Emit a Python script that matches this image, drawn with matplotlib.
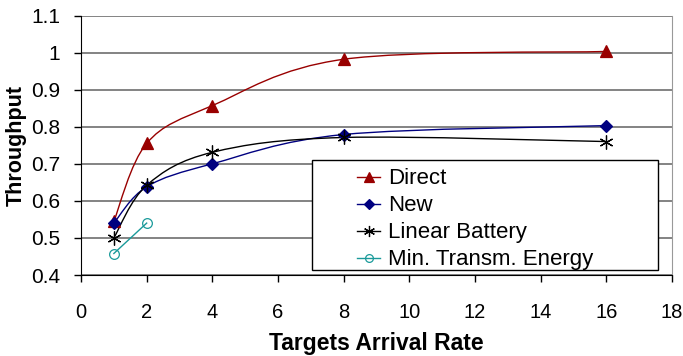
import numpy as np
import matplotlib.pyplot as plt
from matplotlib.path import Path
from matplotlib.patches import PathPatch, Rectangle
from matplotlib.lines import Line2D

plt.rcParams['font.family'] = ['Liberation Sans', 'DejaVu Sans']

# data
rate = [1, 2, 4, 8, 16]
direct = [0.545, 0.755, 0.857, 0.982, 1.003]
new = [0.540, 0.638, 0.700, 0.779, 0.803]
linear_battery = [0.500, 0.642, 0.731, 0.771, 0.760]
rate_mte = [1, 2]
min_transm = [0.458, 0.540]

xticks = list(range(0, 19, 2))
yticks = [0.4, 0.5, 0.6, 0.7, 0.8, 0.9, 1, 1.1]
ytick_labels = ['0.4', '0.5', '0.6', '0.7', '0.8', '0.9', '1', '1.1']


def smooth_path(xs, ys):
    # Excel-style smoothed line: cubic bezier through points, tangents from neighbours
    pts = np.column_stack((xs, ys)).astype(float)
    verts = [pts[0]]
    codes = [Path.MOVETO]
    n = len(pts)
    for i in range(n - 1):
        p0 = pts[i - 1] if i > 0 else pts[i]
        p1, p2 = pts[i], pts[i + 1]
        p3 = pts[i + 2] if i + 2 < n else pts[i + 1]
        c1 = p1 + (p2 - p0) / 6
        c2 = p2 - (p3 - p1) / 6
        verts += [c1, c2, p2]
        codes += [Path.CURVE4] * 3
    return Path(verts, codes)


fig = plt.figure(figsize=(6.83, 3.56), dpi=100)
ax = fig.add_axes([0.1186, 0.2275, 0.8653, 0.7289])

series = [
    (rate, direct, '#990000', '^', 8.5, 'Direct', True),
    (rate, new, '#000080', 'D', 6.5, 'New', True),
    (rate, linear_battery, 'black', (6, 2, 0), 10, 'Linear Battery', True),
    (rate_mte, min_transm, '#1a9a9a', 'o', 7, 'Min. Transm. Energy', False),
]

handles = []
for xs, ys, col, mk, ms, lab, smooth in series:
    if smooth:
        ax.add_patch(PathPatch(smooth_path(xs, ys), fc='none', ec=col, lw=1, zorder=3))
    else:
        ax.plot(xs, ys, color=col, lw=1, zorder=3)
    mfc = 'none' if mk == 'o' else col
    ax.plot(xs, ys, ls='none', marker=mk, ms=ms, color=col, mfc=mfc, mec=col, mew=0.9, zorder=4)
    handles.append(Line2D([], [], color=col, lw=1, marker=mk, ms=ms * 0.8, mfc=mfc, mec=col, mew=0.9))

ax.set_xlim(0, 18)
ax.set_ylim(0.4, 1.1)
ax.set_xticks(xticks)
ax.set_yticks(yticks)
ax.set_yticklabels(ytick_labels)
ax.tick_params(axis='both', direction='out', length=5, width=1, color='black')
ax.tick_params(axis='x', labelsize=14.5, pad=15)
ax.tick_params(axis='y', labelsize=15, pad=10)
ax.grid(axis='y', color='#6e6e6e', lw=1.2)
ax.set_axisbelow(True)
ax.spines['top'].set_visible(False)
ax.spines['right'].set_color('#999999')
ax.spines['left'].set_color('black')
ax.spines['bottom'].set_color('black')

ax.set_xlabel('Targets Arrival Rate', fontsize=16.5, fontweight='bold', labelpad=7)
ax.set_ylabel('Throughput', fontsize=15.5, fontweight='bold', labelpad=3)

# legend frame drawn separately (wide left margin like the original)
ax.add_patch(Rectangle((0.391, 0.019), 0.585, 0.424, transform=ax.transAxes,
                       fc='white', ec='black', lw=1, zorder=5))
leg = ax.legend(handles, [s[5] for s in series], loc='upper left',
                bbox_to_anchor=(0.467, 0.411), fontsize=16, frameon=False,
                borderpad=0, handlelength=1.05, handletextpad=0.36,
                labelspacing=0.27, borderaxespad=0)
leg.set_zorder(6)

fig.savefig('out.png', dpi=100)
